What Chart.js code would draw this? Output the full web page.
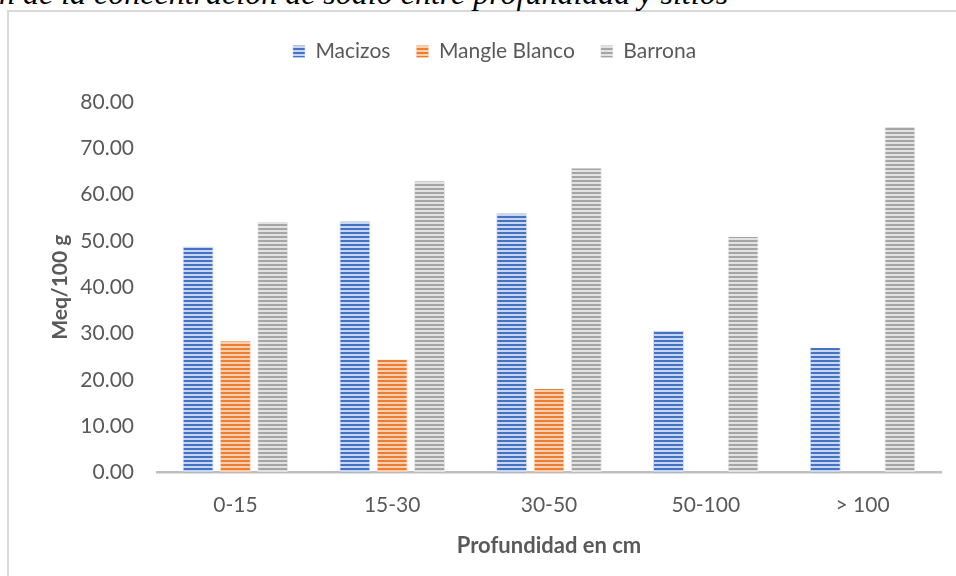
<!DOCTYPE html>
<html>
<head>
<meta charset="utf-8">
<script src="https://cdn.jsdelivr.net/npm/chart.js@4/dist/chart.umd.min.js"></script>
<style>
  html, body { margin: 0; padding: 0; width: 956px; height: 576px; overflow: hidden; background: #fff; }
  #frame { position: absolute; left: 7px; top: 10px; width: 1000px; height: 1000px; border: 2px solid #d9d9d9; box-sizing: border-box; }
  #heading { position: absolute; left: -1px; top: -23px; margin: 0; font-family: "Liberation Serif", "DejaVu Serif", serif; font-style: italic; font-weight: normal; font-size: 32px; line-height: 1; color: #000; white-space: nowrap; }
  #wrap { position: absolute; left: 0; top: 0; width: 956px; height: 576px; }
</style>
</head>
<body>
<div id="frame"></div>
<p id="heading">n de la concentración de sodio entre profundidad y sitios</p>
<div id="wrap"><canvas id="chart" width="956" height="576"></canvas></div>
<script>
// Sodium concentration (Meq/100 g) by soil depth and site
const categories = ['0-15', '15-30', '30-50', '50-100', '> 100'];
const macizos = [48.8, 54.2, 55.9, 30.6, 26.9];
const mangleBlanco = [28.3, 24.4, 18.0, null, null];
const barrona = [54.1, 62.9, 65.7, 50.9, 74.6];
const yTicks = [0, 10, 20, 30, 40, 50, 60, 70, 80];

// Horizontal stripe fill used for each series
function stripes(dark, light) {
  const c = document.createElement('canvas');
  c.width = 4; c.height = 4;
  const g = c.getContext('2d');
  g.fillStyle = light; g.fillRect(0, 0, 4, 4);
  g.fillStyle = dark; g.fillRect(0, 0, 4, 2);
  return g.createPattern(c, 'repeat');
}

// Leaves some room between the legend row and the plot
const legendGap = {
  id: 'legendGap',
  beforeLayout(chart) {
    const lg = chart.legend;
    if (lg && !lg._gapAdded) {
      const fit = lg.fit;
      lg.fit = function () { fit.call(this); this.height += 30; };
      lg._gapAdded = true;
    }
  }
};

const font = 'Lato, "Open Sans", sans-serif';
const textColor = '#595959';

const ctx = document.getElementById('chart').getContext('2d');
new Chart(ctx, {
  type: 'bar',
  data: {
    labels: categories,
    datasets: [
      { label: 'Macizos', data: macizos, backgroundColor: stripes('#4472c4', '#c9d6f0'),
        borderColor: 'rgba(200,214,240,0.8)', borderWidth: { left: 1, right: 1, top: 0, bottom: 0 } },
      { label: 'Mangle Blanco', data: mangleBlanco, backgroundColor: stripes('#ed7d31', '#f9cfb2'),
        borderColor: 'rgba(249,207,178,0.8)', borderWidth: { left: 1, right: 1, top: 0, bottom: 0 } },
      { label: 'Barrona', data: barrona, backgroundColor: stripes('#a5a5a5', '#e2e2e2'),
        borderColor: 'rgba(226,226,226,0.8)', borderWidth: { left: 1, right: 1, top: 0, bottom: 0 } }
    ]
  },
  plugins: [legendGap],
  options: {
    responsive: false,
    animation: false,
    devicePixelRatio: 1,
    categoryPercentage: 0.714,
    barPercentage: 0.83,
    layout: { padding: { left: 48, right: 15, top: 15, bottom: 17 } },
    plugins: {
      legend: {
        position: 'top',
        labels: {
          boxWidth: 12, boxHeight: 12, padding: 26,
          color: textColor,
          font: { family: font, size: 21 }
        }
      },
      tooltip: { enabled: false }
    },
    scales: {
      x: {
        grid: { display: false, drawTicks: false },
        border: { display: true, color: '#bfbfbf', width: 2.5 },
        ticks: { color: textColor, font: { family: font, size: 21 }, padding: 20 },
        title: { display: true, text: 'Profundidad en cm', color: textColor,
                 font: { family: font, size: 22, weight: 'bold' }, padding: { top: -5, bottom: 0 } }
      },
      y: {
        min: 0, max: 80,
        afterBuildTicks: (axis) => { axis.ticks = yTicks.map(v => ({ value: v })); },
        afterFit: (axis) => { axis.width = 109; },
        grid: { display: false, drawTicks: false },
        border: { display: false },
        ticks: { color: textColor, font: { family: font, size: 21 }, padding: 23,
                 callback: (v) => Number(v).toFixed(2) },
        title: { display: true, text: 'Meq/100 g', color: textColor,
                 font: { family: font, size: 21, weight: 'bold' }, padding: { top: 0, bottom: 0 } }
      }
    }
  }
});
</script>
</body>
</html>
